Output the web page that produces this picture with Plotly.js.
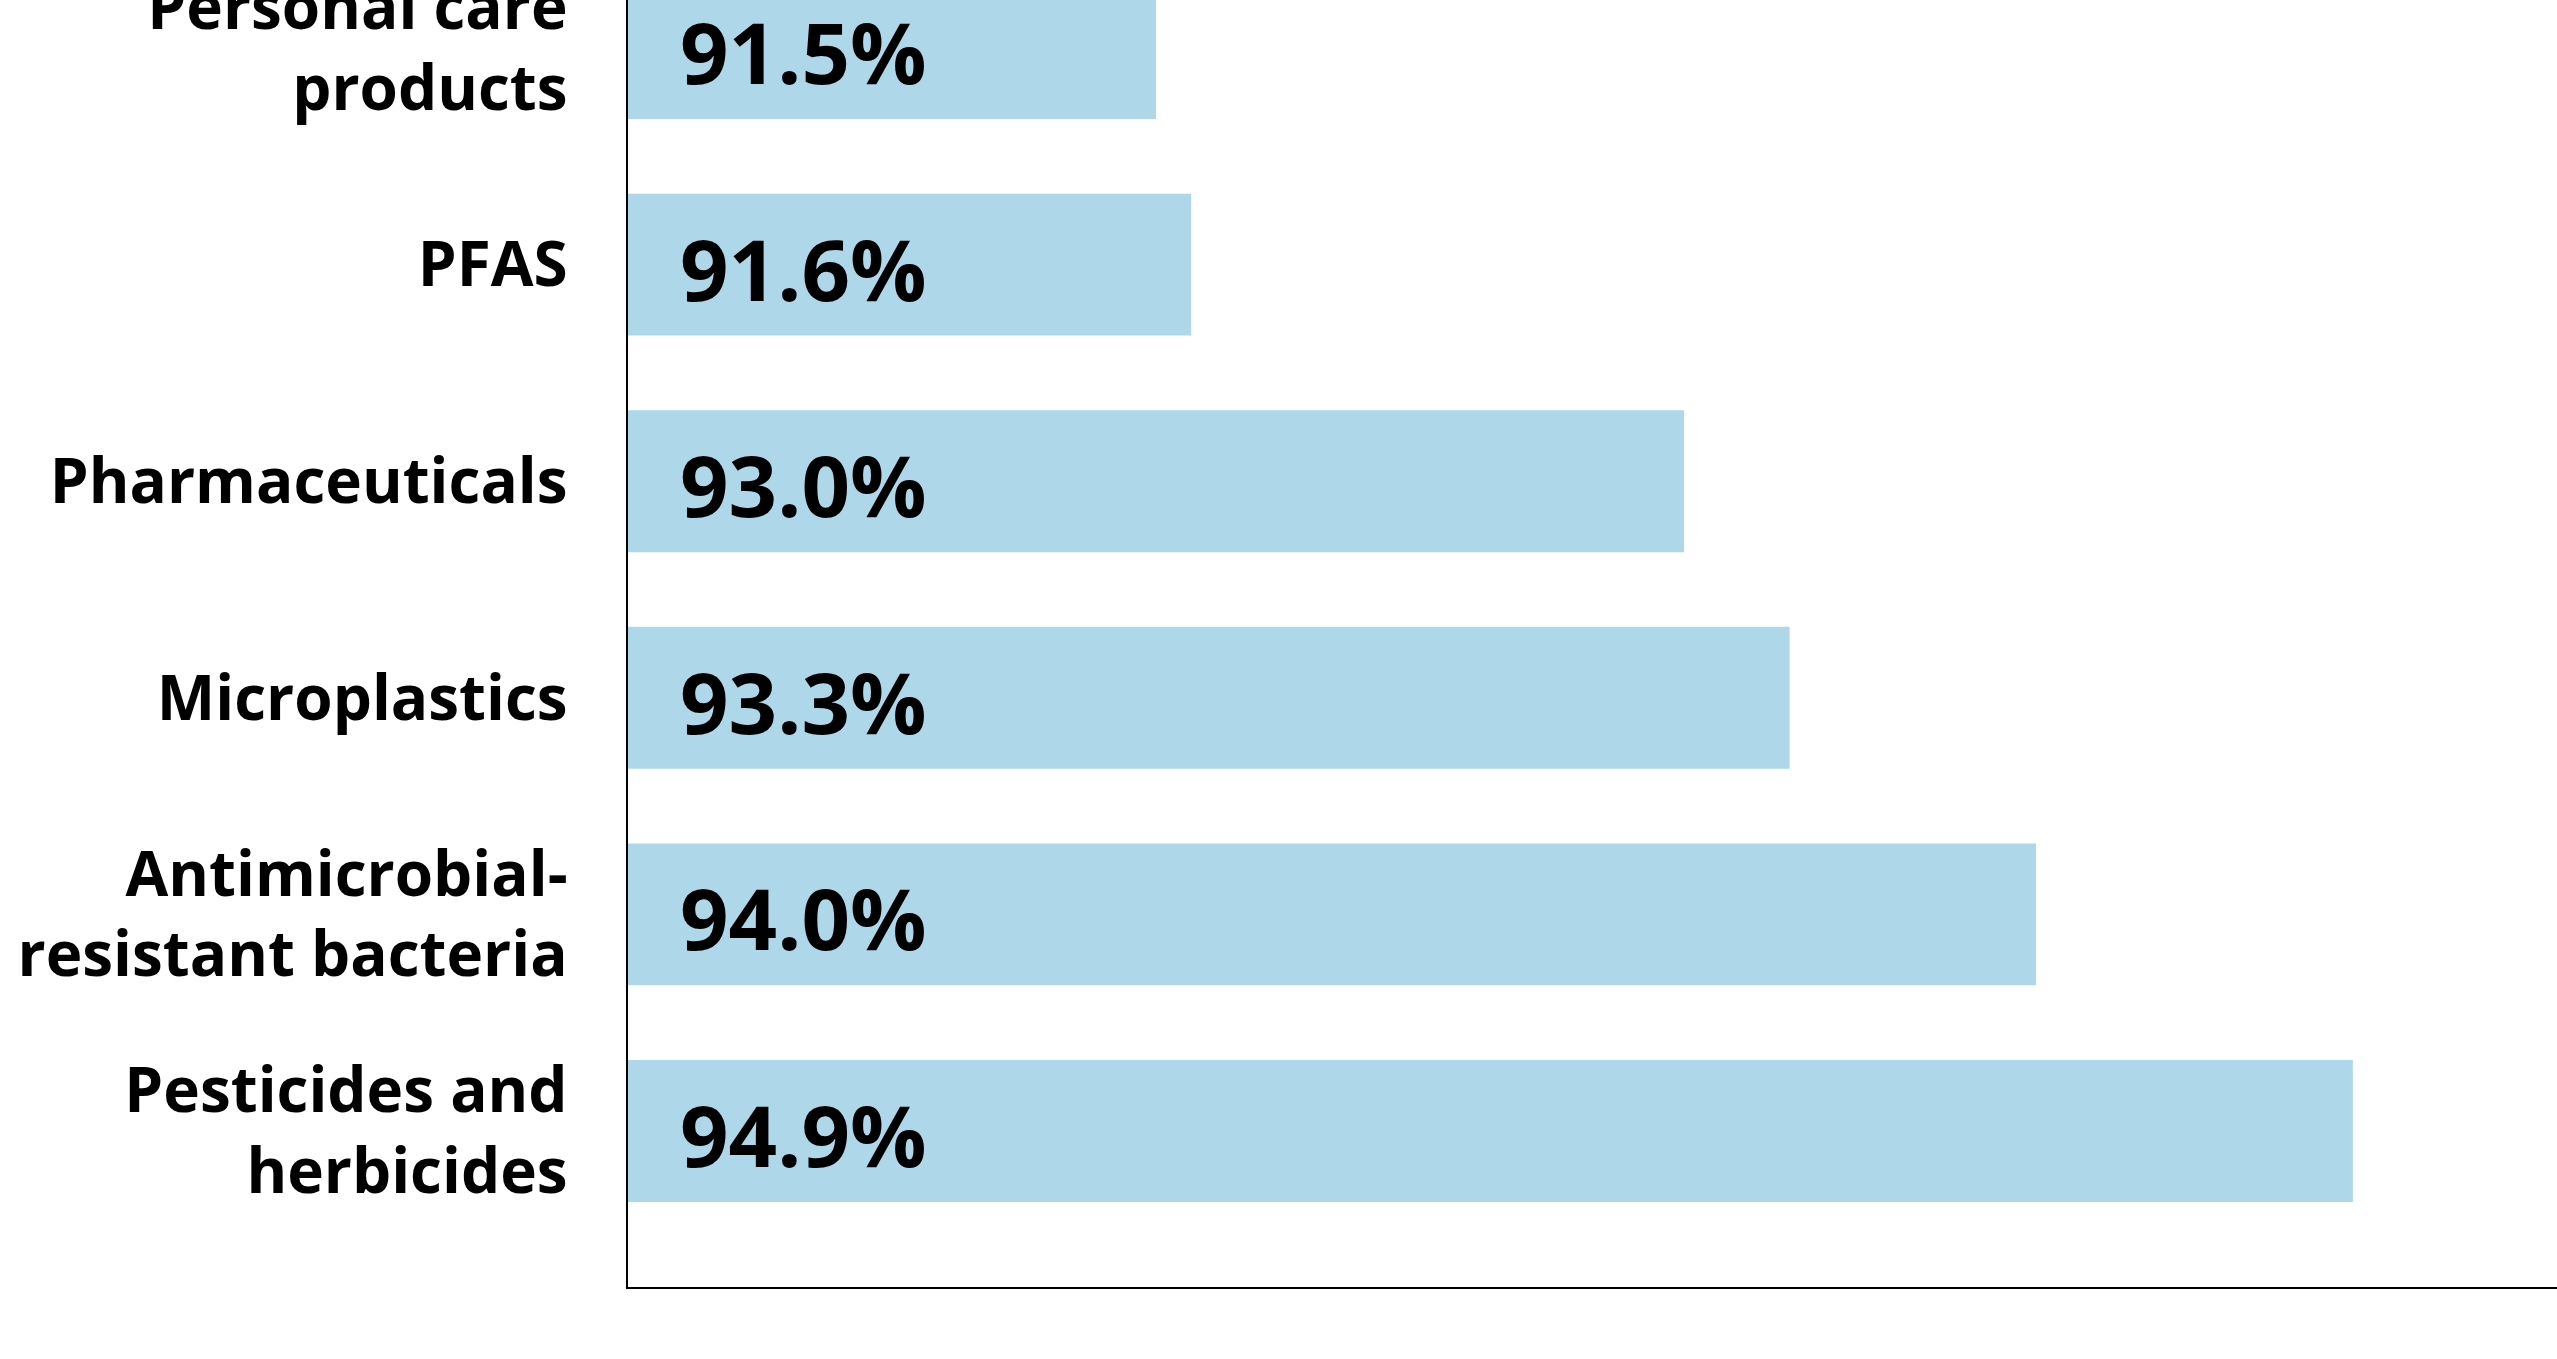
<!DOCTYPE html>
<html>
<head>
<meta charset="utf-8">
<script src="https://cdn.plot.ly/plotly-3.0.1.min.js"></script>
<style>
  html, body { margin: 0; padding: 0; overflow: hidden; background: #ffffff; }
  #chart { position: absolute; left: 0; top: -108px; width: 2557px; height: 1467px; }
</style>
</head>
<body>
<div id="chart"></div>
<script>
const categories = [
  "Personal care<br>products",
  "PFAS",
  "Pharmaceuticals",
  "Microplastics",
  "Antimicrobial-<br>resistant bacteria",
  "Pesticides and<br>herbicides"
];
const values = [91.5, 91.6, 93.0, 93.3, 94.0, 94.9];
const valueLabels = ["91.5%", "91.6%", "93.0%", "93.3%", "94.0%", "94.9%"];

const axisStart = 90;

const trace = {
  type: "bar",
  orientation: "h",
  y: categories,
  x: values.map(v => v - axisStart),
  base: axisStart,
  marker: { color: "#aed7ea", line: { width: 0 } },
  hoverinfo: "skip",
  showlegend: false
};

const annotations = categories.map((c, i) => ({
  x: axisStart,
  y: c,
  xref: "x",
  yref: "y",
  text: valueLabels[i],
  showarrow: false,
  xanchor: "left",
  yanchor: "middle",
  xshift: 50,
  yshift: -3,
  font: { family: "Open Sans", size: 85, color: "#000000", weight: 700 }
}));

const layout = {
  width: 2557,
  height: 1467,
  margin: { l: 628, r: 0, t: 0, b: 72, pad: 0 },
  paper_bgcolor: "#ffffff",
  plot_bgcolor: "#ffffff",
  bargap: 0.345,
  font: { family: "Open Sans", color: "#000000" },
  xaxis: {
    range: [90, 95.48],
    showgrid: false,
    zeroline: false,
    showticklabels: false,
    ticks: "",
    showline: true,
    linecolor: "#000000",
    linewidth: 2,
    fixedrange: true
  },
  yaxis: {
    type: "category",
    range: [5.72, -0.72],
    showgrid: false,
    zeroline: false,
    ticks: "",
    showline: true,
    linecolor: "#000000",
    linewidth: 2,
    ticklabelstandoff: 46,
    tickfont: { family: "Open Sans", size: 62, color: "#000000", weight: 700 },
    automargin: false,
    fixedrange: true
  },
  annotations: annotations
};

Plotly.newPlot("chart", [trace], layout, { staticPlot: true, displayModeBar: false });
</script>
</body>
</html>
